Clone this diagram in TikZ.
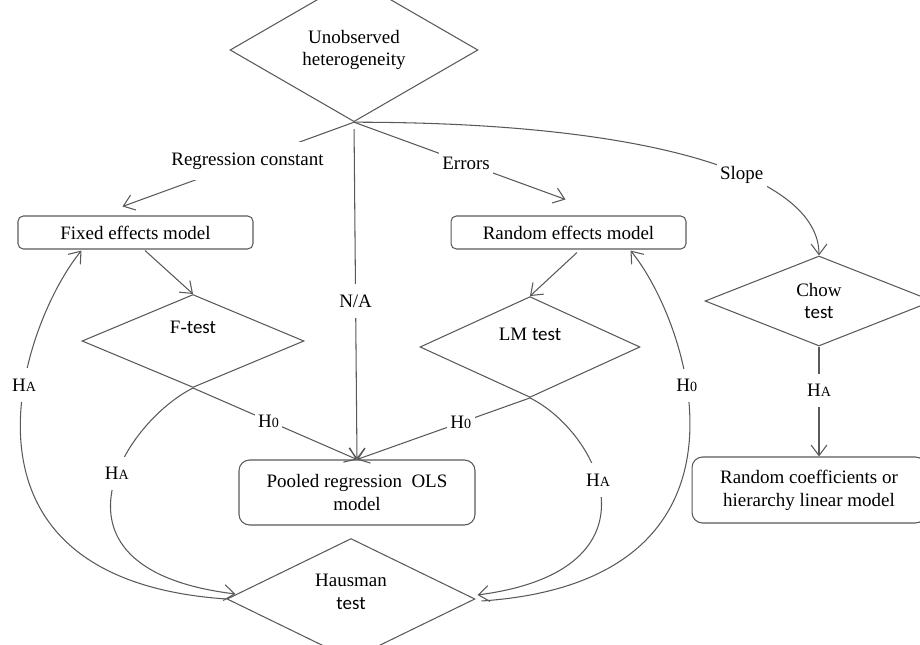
\documentclass[tikz,border=0pt]{standalone}
\usepackage{fontspec}
\setmainfont{Liberation Serif}
\newfontfamily\testfont{Carlito}
\usetikzlibrary{arrows.meta,shapes.geometric}

% hypothesis labels and the sans "test" word
\newcommand{\hyp}[1]{H{\fontsize{8}{9}\selectfont #1}}
\newcommand{\tst}{{\testfont test}}

\begin{document}
\begin{tikzpicture}[x=0.02cm, y=-0.02cm, >={Straight Barb[length=6pt,width=9pt]},
  every node/.style={font=\fontsize{10.8}{13}\selectfont, text=black},
  model/.style={draw=black!65, line width=0.6pt, align=center},
  decision/.style={draw=black!65, line width=0.6pt, diamond, inner sep=0pt, align=center},
  lbl/.style={fill=white, inner xsep=2pt, inner ysep=6pt},
  link/.style={draw=black!65, line width=0.6pt}]

  \useasboundingbox (0,0) rectangle (920,645);

  % Questions and tests
  \node (unobs) [decision, minimum width=4.96cm, minimum height=1.84cm] at (354,50) {Unobserved\\heterogeneity};
  \node (ftest) [decision, minimum width=4.44cm, minimum height=1.86cm, text depth=0.54cm] at (193,341) {F-\tst};
  \node (lmtest) [decision, minimum width=4.4cm, minimum height=1.82cm, text depth=0.52cm] at (530,347) {LM \tst};
  \node (chow) [decision, minimum width=4.56cm, minimum height=1.8cm] at (819,301) {Chow\\\tst};
  \node (haus) [decision, minimum width=4.96cm, minimum height=2cm, text depth=0.28cm] at (351,599) {Hausman\\\tst};

  % Models
  \node (fixed) [model, rounded corners=3pt, minimum width=4.7cm, minimum height=0.66cm] at (135.5,232.5) {Fixed effects model};
  \node (random) [model, rounded corners=3pt, minimum width=4.7cm, minimum height=0.66cm] at (568.5,232.5) {Random effects model};
  \node (pooled) [model, rounded corners=6pt, minimum width=4.72cm, minimum height=1.3cm] at (357,492.5) {Pooled regression\ \ OLS\\model};
  \node (coef) [model, rounded corners=6pt, minimum width=4.68cm, minimum height=1.32cm] at (809,490) {Random coefficients or\\hierarchy linear model};

  % Kinds of heterogeneity
  \draw[link, ->] (unobs.south) -- node[lbl, pos=0.46] {Regression constant} ([shift={(-13,-9)}]fixed.north);
  \draw[link, ->] (unobs.south) -- node[lbl, pos=0.53] {Errors} ([shift={(-3,-16)}]random.north);
  \draw[link, ->, shorten <=4pt] (unobs.south) -- node[lbl, pos=0.53] {N/A} (pooled.north);
  \draw[link, ->] (unobs.south) .. controls +(300,0) and +(0,-79) .. node[lbl, pos=0.6] {Slope} (chow.north);

  % Into the tests
  \draw[link, ->] ([shift={(9.5,1)}]fixed.south) -- (ftest.north);
  \draw[link, ->] ([shift={(8.5,3)}]random.south) -- (lmtest.north);
  \draw[link, ->] (chow.south) -- node[lbl, pos=0.4] {\hyp{A}} (chow.south |- coef.north);

  % Null accepted: pooled OLS
  \draw[link, ->] (ftest.south) -- node[lbl, pos=0.46] {\hyp{0}} (pooled.north);
  \draw[link, ->] (lmtest.south) -- node[lbl, pos=0.4] {\hyp{0}} (pooled.north);

  % Alternatives go on to the Hausman test
  \draw[link, ->] (ftest.south) .. controls +(-70,35) and +(-204,-25) .. node[lbl, pos=0.42] {\hyp{A}} ([shift={(9,-5)}]haus.west);
  \draw[link, ->] (lmtest.south) .. controls +(70,35) and +(190,-25) .. node[lbl, pos=0.42] {\hyp{A}} ([shift={(2,-4)}]haus.east);

  % Hausman back to fixed or random effects
  \draw[link, ->] (haus.west) .. controls +(-295,-20) and +(-59,72) .. node[lbl, pos=0.63] {\hyp{A}} ([shift={(64,1)}]fixed.south west);
  \draw[link, ->] ([shift={(6,2)}]haus.east) .. controls +(295,-20) and +(59,72) .. node[lbl, pos=0.63] {\hyp{0}} ([shift={(-56,1)}]random.south east);

\end{tikzpicture}
\end{document}
